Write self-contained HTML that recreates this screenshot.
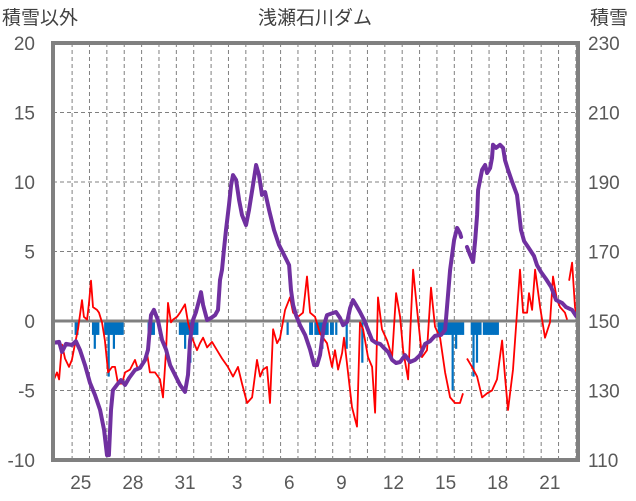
<!DOCTYPE html>
<html><head><meta charset="utf-8"><style>
html,body{margin:0;padding:0;background:#fff;}
svg{display:block;font-family:"Liberation Sans","Noto Sans CJK JP",sans-serif;}
</style></head><body>
<svg id="chart" width="636" height="501" viewBox="0 0 636 501" xmlns="http://www.w3.org/2000/svg">
<text x="2" y="24" font-size="19" fill="#404040">積雪以外</text>
<text x="315" y="24" font-size="19" fill="#404040" text-anchor="middle">浅瀬石川ダム</text>
<text x="590" y="24" font-size="19" fill="#404040">積雪</text>
<g id="grid"></g><g id="bars"></g><g id="lines"></g><g id="frame"></g><g id="labels"></g>
</svg>
<script>
const leftTicks=[20,15,10,5,0,-5,-10];
const rightTicks=[230,210,190,170,150,130,110];
const dayLabels=["25","28","31","3","6","9","12","15","18","21"];
const snowT=[0,0.35,0.52,0.75,1.09,1.32,1.55,1.84,2.13,2.42,2.71,2.94,3.11,3.22,3.34,3.45,3.68,3.91,4.15,4.38,4.72,5.01,5.30,5.47,5.64,5.81,6.04,6.28,6.51,6.74,7.02,7.31,7.60,7.77,7.89,8.06,8.23,8.41,8.52,8.64,8.87,9.10,9.33,9.50,9.61,9.73,9.84,9.96,10.13,10.25,10.36,10.54,10.71,10.88,11.11,11.28,11.51,11.69,11.86,12.03,12.21,12.44,12.72,13.01,13.30,13.59,13.70,13.82,13.99,14.22,14.51,14.80,15.03,15.20,15.37,15.60,15.77,16.12,16.29,16.52,16.70,16.93,17.10,17.27,17.44,17.67,17.91,18.13,18.37,18.60,18.83,19.06,19.29,19.52,19.75,19.98,20.26,20.55,20.84,21.13,21.42,21.70,21.99,22.34,22.57,22.86,23.09,23.26,23.43,23.49,23.66,23.83,24.01,24.18,24.30,24.41,24.47,24.70,24.87,24.99,25.16,25.27,25.33,25.50,25.73,25.91,26.02,26.19,26.43,26.71,26.94,27.12,27.35,27.69,27.86,28.09,28.38,28.67,28.96,29.30,29.53,29.88,30.11];
const snowV=[143.7,144.0,141.1,143.4,143.1,144.2,141.7,137.3,132.2,128.7,124.4,118.6,111.4,111.4,124.4,130.1,131.6,133.0,131.6,133.6,135.9,136.5,138.8,141.7,151.7,153.2,150.3,144.5,141.7,137.3,134.5,131.6,129.6,134.5,144.5,150.3,152.6,156.0,158.3,154.6,150.3,150.9,151.7,153.2,161.8,164.7,170.4,176.2,183.4,189.1,192.0,190.6,184.8,180.5,177.6,181.9,189.1,194.9,192.0,186.3,187.1,181.9,176.2,171.9,169.0,166.1,158.9,154.6,151.7,148.8,146.0,141.7,137.3,137.3,140.2,148.8,151.7,152.3,152.6,150.9,148.8,149.7,153.7,156.0,154.6,152.6,150.3,147.4,144.5,143.7,143.4,142.2,141.1,138.8,137.9,138.2,140.2,138.2,138.8,140.2,143.4,144.2,145.7,146.0,147.4,164.7,173.3,176.8,175.3,174.2,null,171.3,169.0,167.0,173.3,180.5,187.7,193.5,194.9,192.6,194.0,196.9,200.7,199.8,200.7,199.8,196.3,193.5,190.0,186.3,176.2,173.0,171.3,168.7,166.1,164.1,162.1,159.8,156.0,155.2,154.0,153.2,151.4];
const otherT=[0.06,0.23,0.35,0.52,0.69,0.92,1.09,1.27,1.44,1.67,1.78,1.96,2.07,2.19,2.30,2.53,2.65,2.82,2.99,3.17,3.40,3.57,3.74,3.97,4.15,4.43,4.72,4.89,5.18,5.41,5.58,5.87,6.16,6.33,6.51,6.62,6.79,6.91,7.14,7.31,7.60,7.77,8.00,8.29,8.46,8.64,8.87,9.15,9.44,9.73,10.07,10.36,10.65,10.88,11.17,11.46,11.74,11.92,12.09,12.32,12.49,12.67,12.90,13.07,13.36,13.64,13.82,14.10,14.39,14.62,14.80,15.08,15.37,15.77,16.06,16.23,16.41,16.64,16.75,16.98,17.21,17.50,17.67,17.85,18.13,18.37,18.54,18.71,18.94,19.23,19.52,19.75,19.98,20.15,20.44,20.73,20.96,21.24,21.53,21.76,21.99,22.28,22.57,22.86,23.14,23.43,23.60,23.70,23.83,24.12,24.41,24.70,24.99,25.27,25.56,25.85,26.02,26.19,26.48,26.71,26.88,27.06,27.29,27.40,27.58,27.75,28.04,28.32,28.61,28.78,29.01,29.19,29.47,29.59,29.65,29.71,29.88,30.05,30.22];
const otherV=[-4.2,-3.7,-4.2,-1.7,-2.7,-3.3,-2.8,-1.6,-0.6,1.5,0.3,0.1,1.3,2.9,1.0,0.8,0.6,-0.1,-1.4,-3.7,-3.3,-3.3,-4.5,-4.5,-3.7,-3.5,-2.8,-3.5,-3.0,-2.3,-3.7,-3.7,-4.2,-5.5,-2.1,1.3,-0.1,0.1,0.3,0.6,1.2,-0.1,-1.2,-2.1,-1.6,-1.2,-1.9,-1.5,-2.1,-2.7,-3.3,-4.0,-3.3,-4.5,-5.9,-5.5,-2.8,-4.0,-3.5,-3.3,-5.9,-0.6,-1.6,-1.2,0.8,1.7,0.6,0.3,0.6,3.2,0.6,0.3,-0.9,-1.6,-3.3,-2.1,-3.5,-2.3,-1.2,-3.7,-6.2,-7.6,-0.1,-0.6,-2.6,-3.3,-6.6,1.7,-0.6,-1.4,-2.6,2.0,0.3,-2.1,-4.2,3.7,0.8,-2.6,-2.1,2.4,-0.4,-1.2,-3.7,-5.5,-5.9,-5.9,-5.2,null,-2.7,-3.3,-4.0,-5.5,-5.2,-5.0,-4.2,-1.4,-4.0,-6.4,-3.5,0.6,3.7,0.6,0.6,2.0,0.8,3.7,1.0,-1.2,-0.1,3.2,1.5,1.0,0.6,0.1,null,2.9,4.2,1.0,-0.1];
const barT=[1.3,1.4,2.3,2.4,2.5,2.6,3.0,3.1,3.2,3.3,3.4,3.5,3.6,3.7,3.8,3.9,4.0,5.5,5.6,5.7,5.8,7.3,7.4,7.5,7.6,7.7,7.8,7.9,8.0,8.1,8.2,8.3,13.5,14.8,14.9,15.1,15.2,15.3,15.4,15.5,15.6,15.7,15.8,16.0,16.1,16.3,16.9,17.8,22.2,22.3,22.4,22.5,22.6,22.7,22.8,22.9,23.0,23.1,23.2,23.3,23.4,23.5,23.6,24.1,24.2,24.3,24.4,24.5,24.6,24.8,24.9,25.0,25.1,25.2,25.3,25.4,25.5,25.6];
const barV=[-1,-1,-1,-2,-1,-1,-1,-1,-4,-1,-1,-2,-1,-1,-1,-1,-1,-1,-1,-1,-1,-1,-1,-1,-2,-1,-1,-3,-1,-1,-1,-1,-1,-1,-1,-1,-1,-1,-1,-2,-1,-1,-1,-1,-1,-1,-2,-3,-1,-1,-1,-1,-1,-1,-1,-1,-5,-1,-2,-1,-1,-1,-1,-1,-4,-1,-3,-1,-1,-1,-1,-1,-1,-1,-1,-1,-1,-1];

const X0=53,X1=578,Y0=43,Y1=460,TMAX=30.22;
const xs=t=>X0+t*(X1-X0)/TMAX;
const yl=v=>Y1-(v+10)*(Y1-Y0)/30;
const yr=v=>Y1-(v-110)*(Y1-Y0)/120;
const NS="http://www.w3.org/2000/svg";
function mk(tag,parent,attrs){const e=document.createElementNS(NS,tag);for(const k in attrs)e.setAttribute(k,attrs[k]);document.getElementById(parent).appendChild(e);return e;}

leftTicks.forEach(v=>{
  if(v!==20&&v!==-10&&v!==0){const g=mk('line','grid',{x1:X0,x2:X1,y1:yl(v),y2:yl(v),stroke:'#808080','stroke-width':1,'stroke-dasharray':'4,3'});
  
  }
  const t=mk('text','labels',{x:35,y:yl(v)+7,'font-size':19,fill:'#595959','text-anchor':'end'});t.textContent=v;
  
  
});
rightTicks.forEach(v=>{
  const t=mk('text','labels',{x:588,y:yr(v)+7,'font-size':19,fill:'#595959'});t.textContent=v;
  
  
});
for(let k=0;1.1+k<TMAX;k++){
  const g=mk('line','grid',{x1:xs(1.1+k),x2:xs(1.1+k),y1:Y0,y2:Y1,stroke:'#808080','stroke-width':1,'stroke-dasharray':'4,3'});
  
  
}
dayLabels.forEach((d,i)=>{
  const t=mk('text','labels',{x:xs(1.6+3*i),y:489,'font-size':19,fill:'#595959','text-anchor':'middle'});t.textContent=d;
  
  
});
barT.forEach((t,i)=>{
  const r=mk('rect','bars',{x:xs(t)-1,y:yl(0),width:2.2,height:yl(barV[i])-yl(0),fill:'#0070c0'});
  
  
});
function path(T,V,f){let d='',pen=false;T.forEach((t,i)=>{if(V[i]===null){pen=false;return;}d+=(pen?'L':'M')+xs(t).toFixed(1)+','+f(V[i]).toFixed(1);pen=true;});return d;}
const zl=mk('line','lines',{x1:X0,x2:X1,y1:yl(0),y2:yl(0),stroke:'#808080','stroke-width':3});


const red=mk('path','lines',{d:path(otherT,otherV,yl),fill:'none',stroke:'#ff0000','stroke-width':1.8,'stroke-linejoin':'round'});


const pur=mk('path','lines',{d:path(snowT,snowV,yr),fill:'none',stroke:'#7030a0','stroke-width':4,'stroke-linejoin':'round','stroke-linecap':'round'});


const fr=mk('rect','frame',{x:X0,y:Y0,width:X1-X0,height:Y1-Y0,fill:'none',stroke:'#808080','stroke-width':4});


</script>
</body></html>
